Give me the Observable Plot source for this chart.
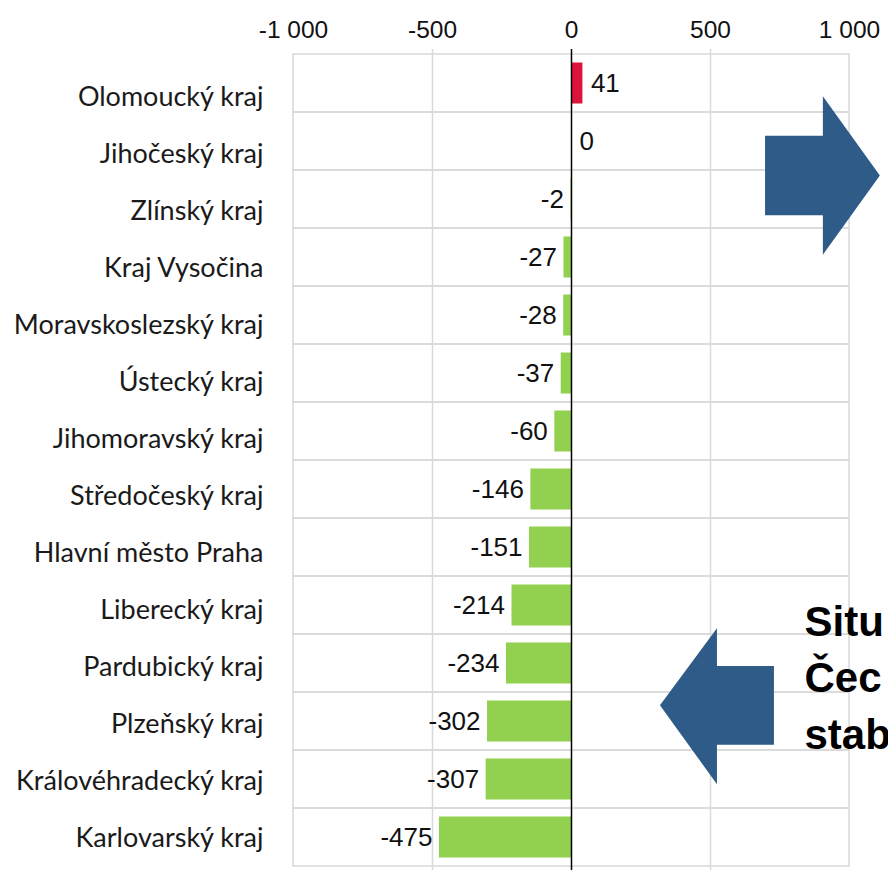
<!DOCTYPE html>
<html>
<head>
<meta charset="utf-8">
<script src="https://cdn.jsdelivr.net/npm/d3@7"></script>
<script src="https://cdn.jsdelivr.net/npm/@observablehq/plot@0.6"></script>
<style>
  html, body { margin: 0; padding: 0; background: #fff; overflow: hidden; }
  #wrap { position: relative; width: 888px; height: 870px; overflow: hidden; }
  #wrap svg { position: absolute; left: 0; top: 0; }
</style>
</head>
<body>
<div id="wrap"></div>
<script>
const regions = [
  "Olomoucký kraj", "Jihočeský kraj", "Zlínský kraj", "Kraj Vysočina",
  "Moravskoslezský kraj", "Ústecký kraj", "Jihomoravský kraj", "Středočeský kraj",
  "Hlavní město Praha", "Liberecký kraj", "Pardubický kraj", "Plzeňský kraj",
  "Královéhradecký kraj", "Karlovarský kraj"
];
const values = [41, 0, -2, -27, -28, -37, -60, -146, -151, -214, -234, -302, -307, -475];
const xTicks = [-1000, -500, 0, 500, 1000];
const xTickLabels = ["-1 000", "-500", "0", "500", "1 000"];
const gridValues = [-500, 500];
// annotation shapes in data units: x value, row offset (in bands from top)
const rightArrowX = [698, 906, 906, 1111, 906, 906, 698];
const rightArrowRow = [1.41, 1.41, 0.73, 2.095, 3.46, 2.78, 2.78];
const leftArrowX = [730, 525, 525, 320, 525, 525, 730];
const leftArrowRow = [10.55, 10.55, 9.9, 11.23, 12.59, 11.91, 11.91];
const noteLines = ["Situ", "Čec", "stab"];
const noteX = 840;
const noteRows = [10.03, 11.0, 11.99];

const data = regions.map((name, i) => ({name, value: values[i]}));

const GREEN = "#92d050", RED = "#dc143c", GRID = "#d9d9d9", BLUE = "#2f5b89";
const SANS = "'Liberation Sans', Arial, sans-serif";

// y-axis labels (category axis)
const labels = Plot.plot({
  width: 888, height: 870,
  marginLeft: 293, marginRight: 39, marginTop: 0, marginBottom: 0,
  style: {background: "none", fontFamily: "Lato, sans-serif"},
  x: {domain: [-1000, 1000], axis: null},
  y: {type: "band", domain: regions, range: [61, 872], padding: 0},
  marks: [
    Plot.axisY({tickSize: 0, tickPadding: 30, fontSize: 27, fill: "#1a1a1a"})
  ]
});

const chart = Plot.plot({
  width: 888, height: 870,
  marginLeft: 293, marginRight: 39, marginTop: 49, marginBottom: 0,
  style: {background: "none", fontFamily: SANS},
  x: {domain: [-1000, 1000], range: [293, 849]},
  y: {type: "band", domain: regions, range: [49, 871], padding: 0, axis: null},
  marks: [
    Plot.barX(data, {y: "name", x1: -1000, x2: 1000, fill: "none", stroke: GRID, strokeWidth: 1.5}),
    Plot.ruleX(gridValues, {stroke: GRID, strokeWidth: 1.5}),
    Plot.barX(data.filter(d => d.value < 0), {y: "name", x: "value", fill: GREEN, insetTop: 8.5, insetBottom: 8.5}),
    Plot.barX(data.filter(d => d.value > 0), {y: "name", x: "value", fill: RED, insetTop: 8.5, insetBottom: 8.5}),
    Plot.ruleX([0], {stroke: "#000", strokeWidth: 1.5}),
    Plot.text(data.filter(d => d.value < 0), {y: "name", x: "value", text: d => String(d.value), textAnchor: "end", dx: -7, fontSize: 26, fill: "#111"}),
    Plot.text(data.filter(d => d.value >= 0), {y: "name", x: "value", text: d => String(d.value), textAnchor: "start", dx: 8, fontSize: 26, fill: "#111"}),
    Plot.axisX({anchor: "top", ticks: xTicks, tickSize: 0, tickPadding: 12, fontSize: 24.5, fill: "#111",
      tickFormat: d => xTickLabels[xTicks.indexOf(d)], label: null})
  ]
});

const wrap = document.getElementById("wrap");
wrap.appendChild(labels);
wrap.appendChild(chart);

// annotations drawn through the chart's own scales
const sx = chart.scale("x"), sy = chart.scale("y");
const y0 = sy.apply(regions[0]), bw = sy.bandwidth;
const px = v => sx.apply(v), py = r => y0 + r * bw;
const svg = d3.select(chart);
const ann = svg.append("g").attr("class", "annotations");
function arrow(xs, rows) {
  ann.append("polygon")
    .attr("points", xs.map((x, i) => `${px(x)},${py(rows[i])}`).join(" "))
    .attr("fill", BLUE);
}
arrow(rightArrowX, rightArrowRow);
arrow(leftArrowX, leftArrowRow);
noteLines.forEach((t, i) => {
  ann.append("text")
    .attr("x", px(noteX)).attr("y", py(noteRows[i]))
    .attr("text-anchor", "start")
    .attr("font-family", SANS).attr("font-weight", "bold")
    .attr("font-size", 42).attr("fill", "#000")
    .text(t);
});
</script>
</body>
</html>
